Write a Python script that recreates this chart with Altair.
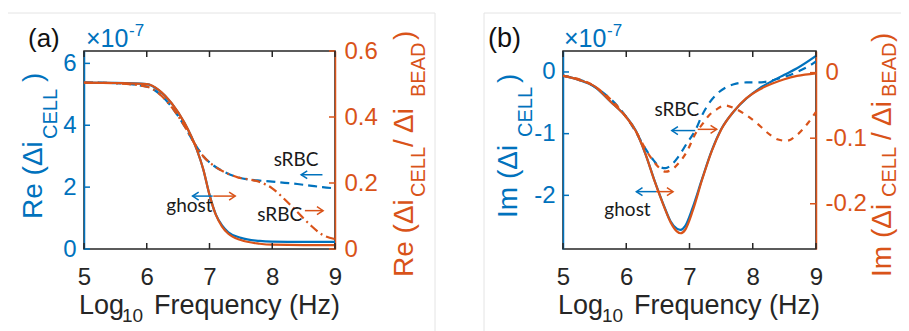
import altair as alt
import pandas as pd

BLUE = "#0072BD"
ORANGE = "#D95319"
DARK = "#262626"
FONT = "Liberation Sans"

# ---------------- data ----------------
# panel (a): real part
a_ghost_x = [5.0, 5.5, 6.0, 6.2, 6.4, 6.6, 6.8, 6.9, 7.0, 7.1, 7.2, 7.3, 7.5, 7.8, 8.0, 8.5, 9.0]
a_ghost_blue = [5.38, 5.37, 5.33, 5.12, 4.70, 4.08, 3.20, 2.58, 1.75, 1.12, 0.76, 0.54, 0.36, 0.26, 0.24, 0.23, 0.23]
a_ghost_orange = [0.504, 0.503, 0.500, 0.481, 0.441, 0.383, 0.300, 0.242, 0.164, 0.104, 0.068, 0.046, 0.027, 0.016, 0.013, 0.012, 0.012]
a_srbc_x = [5.0, 5.5, 6.0, 6.2, 6.4, 6.6, 6.75, 6.9, 7.05, 7.25, 7.45, 7.65, 7.8, 8.0, 8.2, 8.4, 8.6, 8.8, 9.0]
a_srbc_blue = [5.38, 5.36, 5.25, 5.02, 4.58, 3.98, 3.45, 3.00, 2.72, 2.48, 2.32, 2.24, 2.21, 2.18, 2.14, 2.10, 2.05, 2.00, 1.96]
a_srbc_orange = [0.504, 0.502, 0.492, 0.470, 0.429, 0.373, 0.323, 0.281, 0.255, 0.232, 0.217, 0.210, 0.203, 0.184, 0.150, 0.112, 0.074, 0.043, 0.030]

# panel (b): imaginary part
b_ghost_x = [5.0, 5.25, 5.5, 5.75, 6.0, 6.15, 6.3, 6.45, 6.6, 6.7, 6.8, 6.86, 6.93, 7.05, 7.2, 7.35, 7.5, 7.7, 7.9, 8.1, 8.3, 8.5, 8.7, 9.0]
b_ghost_blue = [-0.06, -0.13, -0.24, -0.48, -0.73, -0.95, -1.32, -1.77, -2.18, -2.42, -2.54, -2.56, -2.50, -2.20, -1.73, -1.28, -0.93, -0.64, -0.43, -0.27, -0.15, -0.045, 0.06, 0.26]
b_ghost_orange = [-0.005, -0.011, -0.021, -0.044, -0.068, -0.089, -0.123, -0.166, -0.205, -0.228, -0.242, -0.245, -0.240, -0.211, -0.163, -0.120, -0.087, -0.059, -0.039, -0.026, -0.017, -0.010, -0.005, -0.001]
b_srbc_x = [5.0, 5.5, 6.0, 6.15, 6.3, 6.43, 6.53, 6.62, 6.72, 6.82, 6.95, 7.1, 7.2, 7.3, 7.43, 7.56, 7.7, 7.9, 8.1, 8.2, 8.4, 8.53, 8.7, 8.88, 9.0]
b_srbc_blue = [-0.06, -0.24, -0.73, -0.97, -1.24, -1.43, -1.54, -1.56, -1.50, -1.38, -1.17, -0.93, -0.70, -0.52, -0.36, -0.26, -0.20, -0.17, -0.17, -0.16, -0.11, -0.07, 0.0, 0.09, 0.17]
b_srbc_orange = [-0.005, -0.021, -0.068, -0.089, -0.116, -0.135, -0.146, -0.151, -0.148, -0.139, -0.122, -0.092, -0.079, -0.066, -0.056, -0.050, -0.054, -0.065, -0.080, -0.089, -0.102, -0.104, -0.095, -0.076, -0.060]

# axes
x_ticks = [5, 6, 7, 8, 9]
a_left_ticks = [0, 2, 4, 6]
a_right_ticks = [0, 0.2, 0.4, 0.6]
b_left_ticks = [-2, -1, 0]
b_right_ticks = [-0.2, -0.1, 0]
a_left_domain = [0, 6.4]
a_right_domain = [0, 0.6]
b_left_domain = [-2.87, 0.34]
b_right_domain = [-0.269, 0.033]

# annotations (x in log10 Hz, y in left-axis units)
a_labels = ["sRBC", "ghost", "sRBC"]
a_label_x = [8.38, 6.68, 8.12]
a_label_y = [2.88, 1.40, 1.10]
a_arrow_tip = [8.46, 6.73, 7.41, 8.81]
a_arrow_tail = [8.80, 7.05, 7.06, 8.52]
a_arrow_y = [2.40, 1.71, 1.71, 1.24]
a_arrow_dir = ["left", "left", "right", "right"]

b_labels = ["sRBC", "ghost"]
b_label_x = [6.80, 6.02]
b_label_y = [-0.62, -2.24]
b_arrow_tip = [6.72, 7.43, 6.16, 6.74]
b_arrow_tail = [7.09, 7.13, 6.47, 6.47]
b_arrow_y = [-0.95, -0.93, -1.94, -1.94]
b_arrow_dir = ["left", "right", "left", "right"]

W_A, W_B, H = 251, 253, 198

LEFT_HEAD = "M 1 -0.65 L 0 0 L 1 0.65"
RIGHT_HEAD = "M -1 -0.65 L 0 0 L -1 0.65"

xscale = alt.Scale(domain=[5, 9], nice=False, zero=False)
xaxis = alt.Axis(values=x_ticks, title=None, grid=False, domain=False, ticks=False, tickSize=0,
                 labelFlush=False, labelFont=FONT, labelFontSize=24, labelColor=DARK, labelPadding=16)


def yaxis(orient, color, values, fmt):
    return alt.Axis(orient=orient, values=values, title=None, grid=False, domain=True,
                    domainColor=color, domainWidth=1.5, ticks=False, tickSize=0,
                    labelFlush=False, labelFont=FONT, labelFontSize=24, labelColor=color,
                    labelPadding=8 if orient == "left" else 9,
                    labelExpr="replace(format(datum.value, '" + fmt + "'), '\u2212', '-')")


def line(xs, ys, color, dom, axis, dash=None):
    df = pd.DataFrame({"x": xs, "y": ys})
    kw = dict(color=color, strokeWidth=2.2, interpolate="monotone", clip=True)
    if dash:
        kw["strokeDash"] = dash
    return alt.Chart(df).mark_line(**kw).encode(
        x=alt.X("x:Q", scale=xscale, axis=xaxis),
        y=alt.Y("y:Q", scale=alt.Scale(domain=dom, nice=False, zero=False), axis=axis),
    )


def tick_layers(w, ldom, lt, rdom, rt):
    lay = []
    lay.append(alt.Chart(pd.DataFrame({"v": lt})).mark_rule(color=BLUE, strokeWidth=1.5).encode(
        y=alt.Y("v:Q", scale=alt.Scale(domain=ldom, nice=False, zero=False), axis=None),
        x=alt.value(0), x2=alt.value(6)))
    lay.append(alt.Chart(pd.DataFrame({"v": rt})).mark_rule(color=ORANGE, strokeWidth=1.5).encode(
        y=alt.Y("v:Q", scale=alt.Scale(domain=rdom, nice=False, zero=False), axis=None),
        x=alt.value(w), x2=alt.value(w - 6)))
    xt = pd.DataFrame({"x": x_ticks})
    lay.append(alt.Chart(xt).mark_rule(color=DARK, strokeWidth=1.5).encode(
        x=alt.X("x:Q", scale=xscale, axis=xaxis), y=alt.value(H), y2=alt.value(H - 6)))
    lay.append(alt.Chart(xt).mark_rule(color=DARK, strokeWidth=1.5).encode(
        x=alt.X("x:Q", scale=xscale, axis=xaxis), y=alt.value(0), y2=alt.value(6)))
    return lay


def annotations(ldom, labels, lx, ly, tip, tail, ay, dirs):
    ysc = alt.Scale(domain=ldom, nice=False, zero=False)
    txt = alt.Chart(pd.DataFrame({"x": lx, "y": ly, "t": labels})).mark_text(
        font="Lato", fontSize=19, color="#1a1a1a", align="center", baseline="middle").encode(
        x=alt.X("x:Q", scale=xscale, axis=xaxis), y=alt.Y("y:Q", scale=ysc, axis=None), text="t:N")
    adf = pd.DataFrame({
        "x": tip, "x2": tail, "y": ay,
        "c": [BLUE if d == "left" else ORANGE for d in dirs],
        "s": [LEFT_HEAD if d == "left" else RIGHT_HEAD for d in dirs],
    })
    shaft = alt.Chart(adf).mark_rule(strokeWidth=1.5).encode(
        x=alt.X("x:Q", scale=xscale, axis=xaxis), x2="x2:Q",
        y=alt.Y("y:Q", scale=ysc, axis=None), color=alt.Color("c:N", scale=None))
    head = alt.Chart(adf).mark_point(filled=False, strokeWidth=1.5, size=150, opacity=1).encode(
        x=alt.X("x:Q", scale=xscale, axis=xaxis), y=alt.Y("y:Q", scale=ysc, axis=None),
        color=alt.Color("c:N", scale=None), shape=alt.Shape("s:N", scale=None))
    return [txt, shaft, head]


def title_layer(rows):
    df = pd.DataFrame(rows, columns=["px", "py", "t", "fs", "col", "ang"])
    return alt.Chart(df).mark_text(font=FONT, align="left", baseline="alphabetic").encode(
        x=alt.X("px:Q", scale=None), y=alt.Y("py:Q", scale=None), text="t:N",
        size=alt.Size("fs:Q", scale=None), color=alt.Color("col:N", scale=None),
        angle=alt.Angle("ang:Q", scale=None))


def frame_layers(segs):
    out = []
    for (x1, y1, x2, y2) in segs:
        out.append(alt.Chart(pd.DataFrame({"k": [0]})).mark_rule(color="#e4e4e4", strokeWidth=1).encode(
            x=alt.value(x1), x2=alt.value(x2), y=alt.value(y1), y2=alt.value(y2)))
    return out


# ---------------- panel (a) ----------------
a_titles = [
    [-42, 168, "Re (\u0394i", 28, BLUE, 270],
    [-27, 88, "CELL", 20, BLUE, 270],
    [-42, 31, ")", 28, BLUE, 270],
    [329, 226, "Re (\u0394i", 28, ORANGE, 270],
    [341, 146, "CELL", 20, ORANGE, 270],
    [329, 96, "/ \u0394i", 28, ORANGE, 270],
    [341, 46, "BEAD", 20, ORANGE, 270],
    [329, -11, ")", 28, ORANGE, 270],
    [-5, 263, "Log", 27, DARK, 0],
    [38, 271, "10", 19, DARK, 0],
    [70, 263, "Frequency (Hz)", 27, DARK, 0],
    [2, -4, "\u00d710", 25, BLUE, 0],
    [45, -15, "-7", 17, BLUE, 0],
    [-56, -4, "(a)", 26, "#111111", 0],
]
panel_a = alt.layer(
    *frame_layers([(-76, -38, 351, -38), (351, -38, 351, 280)]),
    line(a_srbc_x, a_srbc_blue, BLUE, a_left_domain, None, [9, 5]),
    line(a_ghost_x, a_ghost_blue, BLUE, a_left_domain, yaxis("left", BLUE, a_left_ticks, "d")),
    line(a_srbc_x, a_srbc_orange, ORANGE, a_right_domain, None, [9, 4, 2, 4]),
    line(a_ghost_x, a_ghost_orange, ORANGE, a_right_domain, yaxis("right", ORANGE, a_right_ticks, ".1~f")),
    *tick_layers(W_A, a_left_domain, a_left_ticks, a_right_domain, a_right_ticks),
    *annotations(a_left_domain, a_labels, a_label_x, a_label_y, a_arrow_tip, a_arrow_tail, a_arrow_y, a_arrow_dir),
    title_layer(a_titles),
).resolve_scale(y="independent").properties(width=W_A, height=H)

# ---------------- panel (b) ----------------
b_titles = [
    [-46, 167, "Im (\u0394i", 28, BLUE, 270],
    [-31, 86, "CELL", 20, BLUE, 270],
    [-46, 32, ")", 28, BLUE, 270],
    [328, 226, "Im (\u0394i", 28, ORANGE, 270],
    [333, 146, "CELL", 20, ORANGE, 270],
    [328, 89, "/ \u0394i", 28, ORANGE, 270],
    [333, 46, "BEAD", 20, ORANGE, 270],
    [328, -9, ")", 28, ORANGE, 270],
    [-5, 263, "Log", 27, DARK, 0],
    [39, 271, "10", 19, DARK, 0],
    [71, 263, "Frequency (Hz)", 27, DARK, 0],
    [1, -4, "\u00d710", 25, BLUE, 0],
    [44, -15, "-7", 17, BLUE, 0],
    [-75, -4, "(b)", 27, "#111111", 0],
]
panel_b = alt.layer(
    *frame_layers([(-79, -38, 346, -38), (-79, -38, -79, 280)]),
    line(b_srbc_x, b_srbc_blue, BLUE, b_left_domain, None, [8, 6]),
    line(b_ghost_x, b_ghost_blue, BLUE, b_left_domain, yaxis("left", BLUE, b_left_ticks, "d")),
    line(b_srbc_x, b_srbc_orange, ORANGE, b_right_domain, None, [6, 6]),
    line(b_ghost_x, b_ghost_orange, ORANGE, b_right_domain, yaxis("right", ORANGE, b_right_ticks, ".1~f")),
    *tick_layers(W_B, b_left_domain, b_left_ticks, b_right_domain, b_right_ticks),
    *annotations(b_left_domain, b_labels, b_label_x, b_label_y, b_arrow_tip, b_arrow_tail, b_arrow_y, b_arrow_dir),
    title_layer(b_titles),
).resolve_scale(y="independent").properties(width=W_B, height=H)

# fixed-size canvas: 893 x 315 svg, plot (a) origin at (76, 43) inside it
chart = alt.hconcat(panel_a, panel_b, spacing=228, bounds="flush").configure_view(
    stroke=DARK, strokeWidth=1.5
).properties(
    autosize=alt.AutoSizeParams(type="none"),
    padding={"left": 76, "top": 43, "right": 817, "bottom": 272},
    background="white",
)

chart.save("out.html", embed_options={"renderer": "svg", "actions": False})
